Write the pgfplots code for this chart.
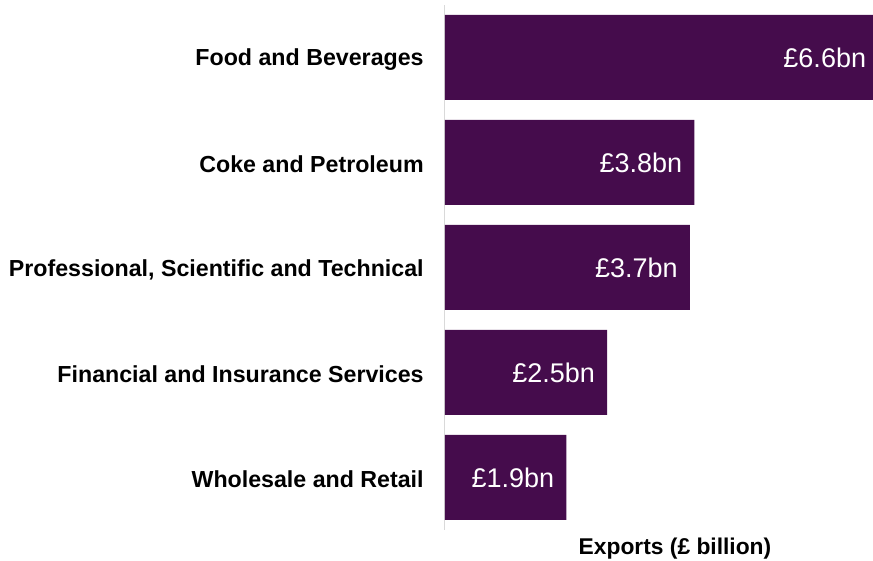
\documentclass[border=0pt]{standalone}
\usepackage{pgfplots}
\pgfplotsset{compat=1.18}
\usepackage{pgfplotstable}
\usepackage{fontspec}
\setmainfont{Liberation Sans}
\definecolor{barpurple}{RGB}{69,12,76}
\definecolor{axisgray}{RGB}{217,217,217}
\pgfplotstableread[col sep=comma]{
y,value,label
4,6.6,£6.6bn
3,3.8,£3.8bn
2,3.73,£3.7bn
1,2.47,£2.5bn
0,1.85,£1.9bn
}\datatable
\begin{document}
\begin{tikzpicture}
\begin{axis}[
  name=ax,
  scale only axis,
  width=428pt, height=525pt,
  xmin=0, xmax=6.52,
  ymin=-0.5, ymax=4.5,
  axis x line=none,
  axis y line=left,
  y axis line style={-, draw=axisgray, line width=1pt},
  ytick={0,1,2,3,4},
  yticklabels={Wholesale and Retail, Financial and Insurance Services, {Professional, Scientific and Technical}, Coke and Petroleum, Food and Beverages},
  ytick style={draw=none},
  yticklabel style={anchor=east, inner sep=0pt, xshift=-19pt, yshift=-2pt, font=\fontsize{23.2}{27}\selectfont\bfseries},
  clip=false,
]
\addplot[xbar, fill=barpurple, draw=none, bar width=85pt,
  nodes near coords, point meta=explicit symbolic,
  every node near coord/.append style={anchor=east, inner sep=0pt, xshift=-12pt, text=white, font=\fontsize{27}{32}\selectfont}]
  table[x=value, y=y, meta=label]{\datatable};
\node[font=\fontsize{22.8}{27}\selectfont\bfseries] at (axis description cs:0.5,0) [xshift=16pt, yshift=-19pt] {Exports (£ billion)};
\end{axis}
\pgfresetboundingbox
\path (ax.south west) ++(-445pt,-31pt) rectangle ++(873pt,561pt);
\end{tikzpicture}
\end{document}
